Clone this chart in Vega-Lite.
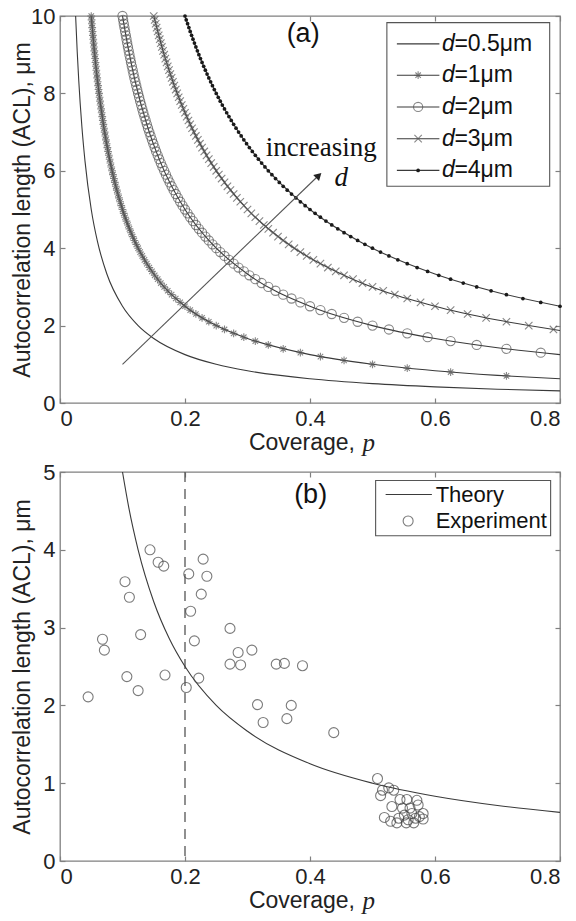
{
  "$schema": "https://vega.github.io/schema/vega-lite/v6.json",
  "padding": {"left": 10, "top": 4, "right": 0, "bottom": 0},
  "spacing": 3,
  "config": {
    "font": "Liberation Sans",
    "view": {"stroke": "#808080", "strokeWidth": 1.3},
    "axis": {
      "domain": false, "grid": false,
      "labelFont": "Liberation Sans", "labelFontSize": 22, "labelColor": "#222",
      "tickColor": "#808080", "tickSize": -5, "tickWidth": 1.2, "labelPadding": 5,
      "titleFont": "Liberation Sans", "titleFontSize": 23, "titleFontWeight": "normal", "titleColor": "#222", "titlePadding": -4
    }
  },
  "datasets": {
    "curves": [
      {"d":"0.5","p":0.025,"a":10},{"d":"0.5","p":0.0275,"a":9.091},{"d":"0.5","p":0.03,"a":8.333},{"d":"0.5","p":0.035,"a":7.143},{"d":"0.5","p":0.04,"a":6.25},{"d":"0.5","p":0.05,"a":5},{"d":"0.5","p":0.06,"a":4.167},{"d":"0.5","p":0.075,"a":3.333},{"d":"0.5","p":0.1,"a":2.5},{"d":"0.5","p":0.125,"a":2},{"d":"0.5","p":0.15,"a":1.667},{"d":"0.5","p":0.2,"a":1.25},{"d":"0.5","p":0.25,"a":1},{"d":"0.5","p":0.3,"a":0.833},{"d":"0.5","p":0.4,"a":0.625},{"d":"0.5","p":0.5,"a":0.5},{"d":"0.5","p":0.6,"a":0.417},{"d":"0.5","p":0.7,"a":0.357},{"d":"0.5","p":0.8,"a":0.3125},
      {"d":"1","p":0.05,"a":10},{"d":"1","p":0.055,"a":9.091},{"d":"1","p":0.06,"a":8.333},{"d":"1","p":0.07,"a":7.143},{"d":"1","p":0.08,"a":6.25},{"d":"1","p":0.1,"a":5},{"d":"1","p":0.12,"a":4.167},{"d":"1","p":0.15,"a":3.333},{"d":"1","p":0.2,"a":2.5},{"d":"1","p":0.25,"a":2},{"d":"1","p":0.3,"a":1.667},{"d":"1","p":0.4,"a":1.25},{"d":"1","p":0.5,"a":1},{"d":"1","p":0.6,"a":0.833},{"d":"1","p":0.7,"a":0.714},{"d":"1","p":0.8,"a":0.625},
      {"d":"2","p":0.1,"a":10},{"d":"2","p":0.11,"a":9.091},{"d":"2","p":0.12,"a":8.333},{"d":"2","p":0.14,"a":7.143},{"d":"2","p":0.16,"a":6.25},{"d":"2","p":0.2,"a":5},{"d":"2","p":0.24,"a":4.167},{"d":"2","p":0.3,"a":3.333},{"d":"2","p":0.4,"a":2.5},{"d":"2","p":0.5,"a":2},{"d":"2","p":0.6,"a":1.667},{"d":"2","p":0.7,"a":1.429},{"d":"2","p":0.8,"a":1.25},
      {"d":"3","p":0.15,"a":10},{"d":"3","p":0.165,"a":9.091},{"d":"3","p":0.18,"a":8.333},{"d":"3","p":0.21,"a":7.143},{"d":"3","p":0.24,"a":6.25},{"d":"3","p":0.3,"a":5},{"d":"3","p":0.36,"a":4.167},{"d":"3","p":0.45,"a":3.333},{"d":"3","p":0.6,"a":2.5},{"d":"3","p":0.7,"a":2.143},{"d":"3","p":0.8,"a":1.875},
      {"d":"4","p":0.2,"a":10},{"d":"4","p":0.22,"a":9.091},{"d":"4","p":0.24,"a":8.333},{"d":"4","p":0.28,"a":7.143},{"d":"4","p":0.32,"a":6.25},{"d":"4","p":0.4,"a":5},{"d":"4","p":0.48,"a":4.167},{"d":"4","p":0.6,"a":3.333},{"d":"4","p":0.7,"a":2.857},{"d":"4","p":0.8,"a":2.5}
    ],
    "m1": [{"p":0.7143,"a":0.7},{"p":0.625,"a":0.8},{"p":0.5556,"a":0.9},{"p":0.5,"a":1.0},{"p":0.4545,"a":1.1},{"p":0.4167,"a":1.2},{"p":0.3846,"a":1.3},{"p":0.3571,"a":1.4},{"p":0.3333,"a":1.5},{"p":0.3125,"a":1.6},{"p":0.2941,"a":1.7},{"p":0.2778,"a":1.8},{"p":0.2632,"a":1.9},{"p":0.25,"a":2.0},{"p":0.2381,"a":2.1},{"p":0.2273,"a":2.2},{"p":0.2174,"a":2.3},{"p":0.2083,"a":2.4},{"p":0.2,"a":2.5},{"p":0.1923,"a":2.6},{"p":0.1852,"a":2.7},{"p":0.1786,"a":2.8},{"p":0.1724,"a":2.9},{"p":0.1667,"a":3.0},{"p":0.1613,"a":3.1},{"p":0.1563,"a":3.2},{"p":0.1515,"a":3.3},{"p":0.1471,"a":3.4},{"p":0.1429,"a":3.5},{"p":0.1389,"a":3.6},{"p":0.1351,"a":3.7},{"p":0.1316,"a":3.8},{"p":0.1282,"a":3.9},{"p":0.125,"a":4.0},{"p":0.122,"a":4.1},{"p":0.119,"a":4.2},{"p":0.1163,"a":4.3},{"p":0.1136,"a":4.4},{"p":0.1111,"a":4.5},{"p":0.1087,"a":4.6},{"p":0.1064,"a":4.7},{"p":0.1042,"a":4.8},{"p":0.102,"a":4.9},{"p":0.1,"a":5.0},{"p":0.098,"a":5.1},{"p":0.0962,"a":5.2},{"p":0.0943,"a":5.3},{"p":0.0926,"a":5.4},{"p":0.0909,"a":5.5},{"p":0.0893,"a":5.6},{"p":0.0877,"a":5.7},{"p":0.0862,"a":5.8},{"p":0.0847,"a":5.9},{"p":0.0833,"a":6.0},{"p":0.082,"a":6.1},{"p":0.0806,"a":6.2},{"p":0.0794,"a":6.3},{"p":0.0781,"a":6.4},{"p":0.0769,"a":6.5},{"p":0.0758,"a":6.6},{"p":0.0746,"a":6.7},{"p":0.0735,"a":6.8},{"p":0.0725,"a":6.9},{"p":0.0714,"a":7.0},{"p":0.0704,"a":7.1},{"p":0.0694,"a":7.2},{"p":0.0685,"a":7.3},{"p":0.0676,"a":7.4},{"p":0.0667,"a":7.5},{"p":0.0658,"a":7.6},{"p":0.0649,"a":7.7},{"p":0.0641,"a":7.8},{"p":0.0633,"a":7.9},{"p":0.0625,"a":8.0},{"p":0.0617,"a":8.1},{"p":0.061,"a":8.2},{"p":0.0602,"a":8.3},{"p":0.0595,"a":8.4},{"p":0.0588,"a":8.5},{"p":0.0581,"a":8.6},{"p":0.0575,"a":8.7},{"p":0.0568,"a":8.8},{"p":0.0562,"a":8.9},{"p":0.0556,"a":9.0},{"p":0.0549,"a":9.1},{"p":0.0543,"a":9.2},{"p":0.0538,"a":9.3},{"p":0.0532,"a":9.4},{"p":0.0526,"a":9.5},{"p":0.0521,"a":9.6},{"p":0.0515,"a":9.7},{"p":0.051,"a":9.8},{"p":0.0505,"a":9.9},{"p":0.05,"a":10.0}],
    "m2": [{"p":0.7692,"a":1.3},{"p":0.7143,"a":1.4},{"p":0.6667,"a":1.5},{"p":0.625,"a":1.6},{"p":0.5882,"a":1.7},{"p":0.5556,"a":1.8},{"p":0.5263,"a":1.9},{"p":0.5,"a":2.0},{"p":0.4762,"a":2.1},{"p":0.4545,"a":2.2},{"p":0.4348,"a":2.3},{"p":0.4167,"a":2.4},{"p":0.4,"a":2.5},{"p":0.3846,"a":2.6},{"p":0.3704,"a":2.7},{"p":0.3571,"a":2.8},{"p":0.3448,"a":2.9},{"p":0.3333,"a":3.0},{"p":0.3226,"a":3.1},{"p":0.3125,"a":3.2},{"p":0.303,"a":3.3},{"p":0.2941,"a":3.4},{"p":0.2857,"a":3.5},{"p":0.2778,"a":3.6},{"p":0.2703,"a":3.7},{"p":0.2632,"a":3.8},{"p":0.2564,"a":3.9},{"p":0.25,"a":4.0},{"p":0.2439,"a":4.1},{"p":0.2381,"a":4.2},{"p":0.2326,"a":4.3},{"p":0.2273,"a":4.4},{"p":0.2222,"a":4.5},{"p":0.2174,"a":4.6},{"p":0.2128,"a":4.7},{"p":0.2083,"a":4.8},{"p":0.2041,"a":4.9},{"p":0.2,"a":5.0},{"p":0.1961,"a":5.1},{"p":0.1923,"a":5.2},{"p":0.1887,"a":5.3},{"p":0.1852,"a":5.4},{"p":0.1818,"a":5.5},{"p":0.1786,"a":5.6},{"p":0.1754,"a":5.7},{"p":0.1724,"a":5.8},{"p":0.1695,"a":5.9},{"p":0.1667,"a":6.0},{"p":0.1639,"a":6.1},{"p":0.1613,"a":6.2},{"p":0.1587,"a":6.3},{"p":0.1563,"a":6.4},{"p":0.1538,"a":6.5},{"p":0.1515,"a":6.6},{"p":0.1493,"a":6.7},{"p":0.1471,"a":6.8},{"p":0.1449,"a":6.9},{"p":0.1429,"a":7.0},{"p":0.1408,"a":7.1},{"p":0.1389,"a":7.2},{"p":0.137,"a":7.3},{"p":0.1351,"a":7.4},{"p":0.1333,"a":7.5},{"p":0.1316,"a":7.6},{"p":0.1299,"a":7.7},{"p":0.1282,"a":7.8},{"p":0.1266,"a":7.9},{"p":0.125,"a":8.0},{"p":0.1235,"a":8.1},{"p":0.122,"a":8.2},{"p":0.1205,"a":8.3},{"p":0.119,"a":8.4},{"p":0.1176,"a":8.5},{"p":0.1163,"a":8.6},{"p":0.1149,"a":8.7},{"p":0.1136,"a":8.8},{"p":0.1124,"a":8.9},{"p":0.1111,"a":9.0},{"p":0.1099,"a":9.1},{"p":0.1087,"a":9.2},{"p":0.1075,"a":9.3},{"p":0.1064,"a":9.4},{"p":0.1053,"a":9.5},{"p":0.1042,"a":9.6},{"p":0.1031,"a":9.7},{"p":0.102,"a":9.8},{"p":0.101,"a":9.9},{"p":0.1,"a":10.0}],
    "m3": [{"p":0.7895,"a":1.9},{"p":0.75,"a":2.0},{"p":0.7143,"a":2.1},{"p":0.6818,"a":2.2},{"p":0.6522,"a":2.3},{"p":0.625,"a":2.4},{"p":0.6,"a":2.5},{"p":0.5769,"a":2.6},{"p":0.5556,"a":2.7},{"p":0.5357,"a":2.8},{"p":0.5172,"a":2.9},{"p":0.5,"a":3.0},{"p":0.4839,"a":3.1},{"p":0.4688,"a":3.2},{"p":0.4545,"a":3.3},{"p":0.4412,"a":3.4},{"p":0.4286,"a":3.5},{"p":0.4167,"a":3.6},{"p":0.4054,"a":3.7},{"p":0.3947,"a":3.8},{"p":0.3846,"a":3.9},{"p":0.375,"a":4.0},{"p":0.3659,"a":4.1},{"p":0.3571,"a":4.2},{"p":0.3488,"a":4.3},{"p":0.3409,"a":4.4},{"p":0.3333,"a":4.5},{"p":0.3261,"a":4.6},{"p":0.3191,"a":4.7},{"p":0.3125,"a":4.8},{"p":0.3061,"a":4.9},{"p":0.3,"a":5.0},{"p":0.2941,"a":5.1},{"p":0.2885,"a":5.2},{"p":0.283,"a":5.3},{"p":0.2778,"a":5.4},{"p":0.2727,"a":5.5},{"p":0.2679,"a":5.6},{"p":0.2632,"a":5.7},{"p":0.2586,"a":5.8},{"p":0.2542,"a":5.9},{"p":0.25,"a":6.0},{"p":0.2459,"a":6.1},{"p":0.2419,"a":6.2},{"p":0.2381,"a":6.3},{"p":0.2344,"a":6.4},{"p":0.2308,"a":6.5},{"p":0.2273,"a":6.6},{"p":0.2239,"a":6.7},{"p":0.2206,"a":6.8},{"p":0.2174,"a":6.9},{"p":0.2143,"a":7.0},{"p":0.2113,"a":7.1},{"p":0.2083,"a":7.2},{"p":0.2055,"a":7.3},{"p":0.2027,"a":7.4},{"p":0.2,"a":7.5},{"p":0.1974,"a":7.6},{"p":0.1948,"a":7.7},{"p":0.1923,"a":7.8},{"p":0.1899,"a":7.9},{"p":0.1875,"a":8.0},{"p":0.1852,"a":8.1},{"p":0.1829,"a":8.2},{"p":0.1807,"a":8.3},{"p":0.1786,"a":8.4},{"p":0.1765,"a":8.5},{"p":0.1744,"a":8.6},{"p":0.1724,"a":8.7},{"p":0.1705,"a":8.8},{"p":0.1685,"a":8.9},{"p":0.1667,"a":9.0},{"p":0.1648,"a":9.1},{"p":0.163,"a":9.2},{"p":0.1613,"a":9.3},{"p":0.1596,"a":9.4},{"p":0.1579,"a":9.5},{"p":0.1563,"a":9.6},{"p":0.1546,"a":9.7},{"p":0.1531,"a":9.8},{"p":0.1515,"a":9.9},{"p":0.15,"a":10.0}],
    "m4": [{"p":0.8,"a":2.5},{"p":0.7692,"a":2.6},{"p":0.7407,"a":2.7},{"p":0.7143,"a":2.8},{"p":0.6897,"a":2.9},{"p":0.6667,"a":3.0},{"p":0.6452,"a":3.1},{"p":0.625,"a":3.2},{"p":0.6061,"a":3.3},{"p":0.5882,"a":3.4},{"p":0.5714,"a":3.5},{"p":0.5556,"a":3.6},{"p":0.5405,"a":3.7},{"p":0.5263,"a":3.8},{"p":0.5128,"a":3.9},{"p":0.5,"a":4.0},{"p":0.4878,"a":4.1},{"p":0.4762,"a":4.2},{"p":0.4651,"a":4.3},{"p":0.4545,"a":4.4},{"p":0.4444,"a":4.5},{"p":0.4348,"a":4.6},{"p":0.4255,"a":4.7},{"p":0.4167,"a":4.8},{"p":0.4082,"a":4.9},{"p":0.4,"a":5.0},{"p":0.3922,"a":5.1},{"p":0.3846,"a":5.2},{"p":0.3774,"a":5.3},{"p":0.3704,"a":5.4},{"p":0.3636,"a":5.5},{"p":0.3571,"a":5.6},{"p":0.3509,"a":5.7},{"p":0.3448,"a":5.8},{"p":0.339,"a":5.9},{"p":0.3333,"a":6.0},{"p":0.3279,"a":6.1},{"p":0.3226,"a":6.2},{"p":0.3175,"a":6.3},{"p":0.3125,"a":6.4},{"p":0.3077,"a":6.5},{"p":0.303,"a":6.6},{"p":0.2985,"a":6.7},{"p":0.2941,"a":6.8},{"p":0.2899,"a":6.9},{"p":0.2857,"a":7.0},{"p":0.2817,"a":7.1},{"p":0.2778,"a":7.2},{"p":0.274,"a":7.3},{"p":0.2703,"a":7.4},{"p":0.2667,"a":7.5},{"p":0.2632,"a":7.6},{"p":0.2597,"a":7.7},{"p":0.2564,"a":7.8},{"p":0.2532,"a":7.9},{"p":0.25,"a":8.0},{"p":0.2469,"a":8.1},{"p":0.2439,"a":8.2},{"p":0.241,"a":8.3},{"p":0.2381,"a":8.4},{"p":0.2353,"a":8.5},{"p":0.2326,"a":8.6},{"p":0.2299,"a":8.7},{"p":0.2273,"a":8.8},{"p":0.2247,"a":8.9},{"p":0.2222,"a":9.0},{"p":0.2198,"a":9.1},{"p":0.2174,"a":9.2},{"p":0.2151,"a":9.3},{"p":0.2128,"a":9.4},{"p":0.2105,"a":9.5},{"p":0.2083,"a":9.6},{"p":0.2062,"a":9.7},{"p":0.2041,"a":9.8},{"p":0.202,"a":9.9},{"p":0.2,"a":10.0}],
    "legendA": [
      {"k":"0.5","lab":"=0.5μm","a":9.28},
      {"k":"1","lab":"=1μm","a":8.47},
      {"k":"2","lab":"=2μm","a":7.65},
      {"k":"3","lab":"=3μm","a":6.83},
      {"k":"4","lab":"=4μm","a":6.01}
    ],
    "theory": [{"p":0.1,"a":5},{"p":0.11,"a":4.545},{"p":0.125,"a":4},{"p":0.15,"a":3.333},{"p":0.175,"a":2.857},{"p":0.2,"a":2.5},{"p":0.25,"a":2},{"p":0.3,"a":1.667},{"p":0.4,"a":1.25},{"p":0.5,"a":1},{"p":0.6,"a":0.833},{"p":0.7,"a":0.714},{"p":0.8,"a":0.625}],
    "experiment": [
      {"p":0.045,"a":2.11},{"p":0.068,"a":2.85},{"p":0.071,"a":2.71},{"p":0.104,"a":3.59},{"p":0.111,"a":3.39},{"p":0.107,"a":2.37},{"p":0.129,"a":2.91},{"p":0.125,"a":2.19},{"p":0.144,"a":4.0},{"p":0.157,"a":3.84},{"p":0.166,"a":3.79},{"p":0.168,"a":2.39},{"p":0.202,"a":2.23},{"p":0.206,"a":3.69},{"p":0.209,"a":3.21},{"p":0.215,"a":2.83},{"p":0.222,"a":2.35},{"p":0.229,"a":3.88},{"p":0.235,"a":3.66},{"p":0.226,"a":3.43},{"p":0.272,"a":2.99},{"p":0.285,"a":2.68},{"p":0.272,"a":2.53},{"p":0.289,"a":2.52},{"p":0.307,"a":2.71},{"p":0.316,"a":2.01},{"p":0.325,"a":1.78},{"p":0.346,"a":2.53},{"p":0.359,"a":2.54},{"p":0.363,"a":1.83},{"p":0.37,"a":2.0},{"p":0.388,"a":2.51},{"p":0.438,"a":1.65},
      {"p":0.508,"a":1.06},{"p":0.513,"a":0.84},{"p":0.516,"a":0.91},{"p":0.526,"a":0.94},{"p":0.534,"a":0.91},{"p":0.531,"a":0.7},{"p":0.519,"a":0.56},{"p":0.529,"a":0.51},{"p":0.544,"a":0.79},{"p":0.555,"a":0.79},{"p":0.571,"a":0.78},{"p":0.573,"a":0.72},{"p":0.542,"a":0.55},{"p":0.551,"a":0.59},{"p":0.557,"a":0.53},{"p":0.563,"a":0.61},{"p":0.566,"a":0.49},{"p":0.575,"a":0.57},{"p":0.581,"a":0.54},{"p":0.554,"a":0.49},{"p":0.539,"a":0.49},{"p":0.56,"a":0.68},{"p":0.581,"a":0.61},{"p":0.548,"a":0.68},{"p":0.569,"a":0.55}
    ]
  },
  "vconcat": [
    {
      "width": 500, "height": 387,
      "resolve": {"axis": {"x": "independent", "y": "independent"}},
      "layer": [
        {
          "data": {"name": "curves"},
          "mark": {"type": "line", "interpolate": "monotone", "color": "#3a3a3a", "strokeWidth": 1.1, "clip": true},
          "encoding": {
            "x": {"field": "p", "type": "quantitative", "scale": {"domain": [0, 0.8], "nice": false},
                  "axis": {"values": [0, 0.2, 0.4, 0.6, 0.8], "format": "~g", "ticks": false, "title": null}},
            "y": {"field": "a", "type": "quantitative", "scale": {"domain": [0, 10], "nice": false},
                  "axis": {"values": [0, 2, 4, 6, 8, 10], "ticks": false, "title": "Autocorrelation length (ACL), μm"}},
            "detail": {"field": "d"}
          }
        },
        {
          "data": {"name": "m1"},
          "mark": {"type": "point", "shape": "M-1,0L1,0M0,-1L0,1M-0.7,-0.7L0.7,0.7M-0.7,0.7L0.7,-0.7", "filled": false, "stroke": "#555", "strokeWidth": 1.1, "size": 60},
          "encoding": {
            "x": {"field": "p", "type": "quantitative", "axis": {"orient": "top", "values": [0, 0.2, 0.4, 0.6, 0.8], "labels": false, "title": null}},
            "y": {"field": "a", "type": "quantitative", "axis": {"orient": "right", "values": [0, 2, 4, 6, 8, 10], "labels": false, "title": null}}
          }
        },
        {
          "data": {"name": "m2"},
          "mark": {"type": "point", "shape": "circle", "filled": false, "stroke": "#555", "strokeWidth": 1.1, "size": 85},
          "encoding": {
            "x": {"field": "p", "type": "quantitative", "axis": {"orient": "bottom", "values": [0, 0.2, 0.4, 0.6, 0.8], "labels": false, "title": null}},
            "y": {"field": "a", "type": "quantitative", "axis": {"orient": "left", "values": [0, 2, 4, 6, 8, 10], "labels": false, "title": null}}
          }
        },
        {
          "data": {"name": "m3"},
          "mark": {"type": "point", "shape": "M-1,-1L1,1M-1,1L1,-1", "filled": false, "stroke": "#555", "strokeWidth": 1.1, "size": 55},
          "encoding": {
            "x": {"field": "p", "type": "quantitative", "axis": null},
            "y": {"field": "a", "type": "quantitative", "axis": null}
          }
        },
        {
          "data": {"name": "m4"},
          "mark": {"type": "point", "shape": "circle", "filled": true, "fill": "#1a1a1a", "size": 14, "opacity": 1},
          "encoding": {
            "x": {"field": "p", "type": "quantitative", "axis": null},
            "y": {"field": "a", "type": "quantitative", "axis": null}
          }
        },
        {
          "data": {"values": [{"p0": 0.1, "a0": 1.0, "p1": 0.41, "a1": 5.82}]},
          "mark": {"type": "rule", "color": "#555", "strokeWidth": 1.1},
          "encoding": {
            "x": {"field": "p0", "type": "quantitative", "axis": null},
            "y": {"field": "a0", "type": "quantitative", "axis": null},
            "x2": {"field": "p1"},
            "y2": {"field": "a1"}
          }
        },
        {
          "data": {"values": [{"p": 0.414, "a": 5.88}]},
          "mark": {"type": "point", "shape": "triangle-up", "filled": true, "fill": "#222", "size": 70, "angle": 46, "opacity": 1},
          "encoding": {
            "x": {"field": "p", "type": "quantitative", "axis": null},
            "y": {"field": "a", "type": "quantitative", "axis": null}
          }
        },
        {
          "data": {"values": [{"t": "(a)", "p": 0.389, "a": 9.53}]},
          "mark": {"type": "text", "font": "Liberation Sans", "fontSize": 27, "color": "#111", "baseline": "middle"},
          "encoding": {
            "x": {"field": "p", "type": "quantitative", "axis": null},
            "y": {"field": "a", "type": "quantitative", "axis": null},
            "text": {"field": "t"}
          }
        },
        {
          "data": {"values": [{"t": "increasing", "p": 0.418, "a": 6.59}]},
          "mark": {"type": "text", "font": "Liberation Serif", "fontSize": 27, "color": "#111", "baseline": "middle"},
          "encoding": {
            "x": {"field": "p", "type": "quantitative", "axis": null},
            "y": {"field": "a", "type": "quantitative", "axis": null},
            "text": {"field": "t"}
          }
        },
        {
          "data": {"values": [{"t": "d", "p": 0.45, "a": 5.82}]},
          "mark": {"type": "text", "font": "Liberation Serif", "fontStyle": "italic", "fontSize": 27, "color": "#111", "baseline": "middle"},
          "encoding": {
            "x": {"field": "p", "type": "quantitative", "axis": null},
            "y": {"field": "a", "type": "quantitative", "axis": null},
            "text": {"field": "t"}
          }
        },
        {
          "data": {"values": [{"t": "Coverage,", "p": 0.472, "a": 0}]},
          "mark": {"type": "text", "font": "Liberation Sans", "fontSize": 23, "color": "#222", "align": "right", "baseline": "middle", "dy": 40},
          "encoding": {
            "x": {"field": "p", "type": "quantitative", "axis": null},
            "y": {"field": "a", "type": "quantitative", "axis": null},
            "text": {"field": "t"}
          }
        },
        {
          "data": {"values": [{"t": "p", "p": 0.484, "a": 0}]},
          "mark": {"type": "text", "font": "Liberation Serif", "fontStyle": "italic", "fontSize": 25, "color": "#222", "align": "left", "baseline": "middle", "dy": 40},
          "encoding": {
            "x": {"field": "p", "type": "quantitative", "axis": null},
            "y": {"field": "a", "type": "quantitative", "axis": null},
            "text": {"field": "t"}
          }
        },
        {
          "data": {"values": [{"p0": 0.523, "p1": 0.7835, "a0": 5.6, "a1": 9.83}]},
          "mark": {"type": "rect", "fill": "white", "stroke": "#555", "strokeWidth": 1.1},
          "encoding": {
            "x": {"field": "p0", "type": "quantitative", "axis": null},
            "x2": {"field": "p1"},
            "y": {"field": "a0", "type": "quantitative", "axis": null},
            "y2": {"field": "a1"}
          }
        },
        {
          "data": {"name": "legendA"},
          "mark": {"type": "rule", "color": "#3a3a3a", "strokeWidth": 1.1},
          "encoding": {
            "x": {"datum": 0.539, "type": "quantitative", "axis": null},
            "x2": {"datum": 0.607},
            "y": {"field": "a", "type": "quantitative", "axis": null}
          }
        },
        {
          "data": {"name": "legendA"},
          "transform": [{"filter": "datum.k === '1'"}],
          "mark": {"type": "point", "shape": "M-1,0L1,0M0,-1L0,1M-0.7,-0.7L0.7,0.7M-0.7,0.7L0.7,-0.7", "filled": false, "stroke": "#555", "strokeWidth": 1.1, "size": 60},
          "encoding": {
            "x": {"datum": 0.573, "type": "quantitative", "axis": null},
            "y": {"field": "a", "type": "quantitative", "axis": null}
          }
        },
        {
          "data": {"name": "legendA"},
          "transform": [{"filter": "datum.k === '2'"}],
          "mark": {"type": "point", "shape": "circle", "filled": false, "stroke": "#555", "strokeWidth": 1.1, "size": 85},
          "encoding": {
            "x": {"datum": 0.573, "type": "quantitative", "axis": null},
            "y": {"field": "a", "type": "quantitative", "axis": null}
          }
        },
        {
          "data": {"name": "legendA"},
          "transform": [{"filter": "datum.k === '3'"}],
          "mark": {"type": "point", "shape": "M-1,-1L1,1M-1,1L1,-1", "filled": false, "stroke": "#555", "strokeWidth": 1.1, "size": 55},
          "encoding": {
            "x": {"datum": 0.573, "type": "quantitative", "axis": null},
            "y": {"field": "a", "type": "quantitative", "axis": null}
          }
        },
        {
          "data": {"name": "legendA"},
          "transform": [{"filter": "datum.k === '4'"}],
          "mark": {"type": "point", "shape": "circle", "filled": true, "fill": "#1a1a1a", "size": 14, "opacity": 1},
          "encoding": {
            "x": {"datum": 0.573, "type": "quantitative", "axis": null},
            "y": {"field": "a", "type": "quantitative", "axis": null}
          }
        },
        {
          "data": {"name": "legendA"},
          "mark": {"type": "text", "text": "d", "font": "Liberation Sans", "fontStyle": "italic", "fontSize": 23, "color": "#111", "align": "left", "baseline": "middle"},
          "encoding": {
            "x": {"datum": 0.611, "type": "quantitative", "axis": null},
            "y": {"field": "a", "type": "quantitative", "axis": null}
          }
        },
        {
          "data": {"name": "legendA"},
          "mark": {"type": "text", "font": "Liberation Sans", "fontSize": 23, "color": "#111", "align": "left", "baseline": "middle"},
          "encoding": {
            "x": {"datum": 0.631, "type": "quantitative", "axis": null},
            "y": {"field": "a", "type": "quantitative", "axis": null},
            "text": {"field": "lab"}
          }
        }
      ]
    },
    {
      "width": 500, "height": 389,
      "resolve": {"axis": {"x": "independent", "y": "independent"}},
      "layer": [
        {
          "data": {"values": [{"p": 0.2}]},
          "mark": {"type": "rule", "color": "#555", "strokeWidth": 1.3, "strokeDash": [10, 7]},
          "encoding": {
            "x": {"field": "p", "type": "quantitative", "scale": {"domain": [0, 0.8], "nice": false},
                  "axis": {"values": [0, 0.2, 0.4, 0.6, 0.8], "format": "~g", "ticks": false, "title": null}}
          }
        },
        {
          "data": {"name": "theory"},
          "mark": {"type": "line", "interpolate": "monotone", "color": "#3a3a3a", "strokeWidth": 1.1, "clip": true},
          "encoding": {
            "x": {"field": "p", "type": "quantitative", "axis": {"orient": "top", "values": [0, 0.2, 0.4, 0.6, 0.8], "labels": false, "title": null}},
            "y": {"field": "a", "type": "quantitative", "scale": {"domain": [0, 5], "nice": false},
                  "axis": {"values": [0, 1, 2, 3, 4, 5], "ticks": false, "titlePadding": 8, "title": "Autocorrelation length (ACL), μm"}}
          }
        },
        {
          "data": {"name": "experiment"},
          "mark": {"type": "point", "shape": "circle", "filled": false, "stroke": "#444", "strokeWidth": 1.1, "size": 100},
          "encoding": {
            "x": {"field": "p", "type": "quantitative", "axis": {"orient": "bottom", "values": [0, 0.2, 0.4, 0.6, 0.8], "labels": false, "title": null}},
            "y": {"field": "a", "type": "quantitative", "axis": {"orient": "right", "values": [0, 1, 2, 3, 4, 5], "labels": false, "title": null}}
          }
        },
        {
          "data": {"values": [{"t": "(b)", "p": 0.401, "a": 4.71}]},
          "mark": {"type": "text", "font": "Liberation Sans", "fontSize": 27, "color": "#111", "baseline": "middle"},
          "encoding": {
            "x": {"field": "p", "type": "quantitative", "axis": null},
            "y": {"field": "a", "type": "quantitative", "axis": {"orient": "left", "values": [0, 1, 2, 3, 4, 5], "labels": false, "title": null}},
            "text": {"field": "t"}
          }
        },
        {
          "data": {"values": [{"t": "Coverage,", "p": 0.472, "a": 0}]},
          "mark": {"type": "text", "font": "Liberation Sans", "fontSize": 23, "color": "#222", "align": "right", "baseline": "middle", "dy": 40},
          "encoding": {
            "x": {"field": "p", "type": "quantitative", "axis": null},
            "y": {"field": "a", "type": "quantitative", "axis": null},
            "text": {"field": "t"}
          }
        },
        {
          "data": {"values": [{"t": "p", "p": 0.484, "a": 0}]},
          "mark": {"type": "text", "font": "Liberation Serif", "fontStyle": "italic", "fontSize": 25, "color": "#222", "align": "left", "baseline": "middle", "dy": 40},
          "encoding": {
            "x": {"field": "p", "type": "quantitative", "axis": null},
            "y": {"field": "a", "type": "quantitative", "axis": null},
            "text": {"field": "t"}
          }
        },
        {
          "data": {"values": [{"p0": 0.505, "p1": 0.785, "a0": 4.18, "a1": 4.89}]},
          "mark": {"type": "rect", "fill": "white", "stroke": "#555", "strokeWidth": 1.1},
          "encoding": {
            "x": {"field": "p0", "type": "quantitative", "axis": null},
            "x2": {"field": "p1"},
            "y": {"field": "a0", "type": "quantitative", "axis": null},
            "y2": {"field": "a1"}
          }
        },
        {
          "data": {"values": [{"lab": "Theory", "a": 4.71}]},
          "mark": {"type": "rule", "color": "#3a3a3a", "strokeWidth": 1.1},
          "encoding": {
            "x": {"datum": 0.521, "type": "quantitative", "axis": null},
            "x2": {"datum": 0.595},
            "y": {"field": "a", "type": "quantitative", "axis": null}
          }
        },
        {
          "data": {"values": [{"lab": "Experiment", "a": 4.37}]},
          "mark": {"type": "point", "shape": "circle", "filled": false, "stroke": "#444", "strokeWidth": 1.1, "size": 100},
          "encoding": {
            "x": {"datum": 0.557, "type": "quantitative", "axis": null},
            "y": {"field": "a", "type": "quantitative", "axis": null}
          }
        },
        {
          "data": {"values": [{"lab": "Theory", "a": 4.71}, {"lab": "Experiment", "a": 4.37}]},
          "mark": {"type": "text", "font": "Liberation Sans", "fontSize": 22, "color": "#111", "align": "left", "baseline": "middle"},
          "encoding": {
            "x": {"datum": 0.601, "type": "quantitative", "axis": null},
            "y": {"field": "a", "type": "quantitative", "axis": null},
            "text": {"field": "lab"}
          }
        }
      ]
    }
  ]
}
